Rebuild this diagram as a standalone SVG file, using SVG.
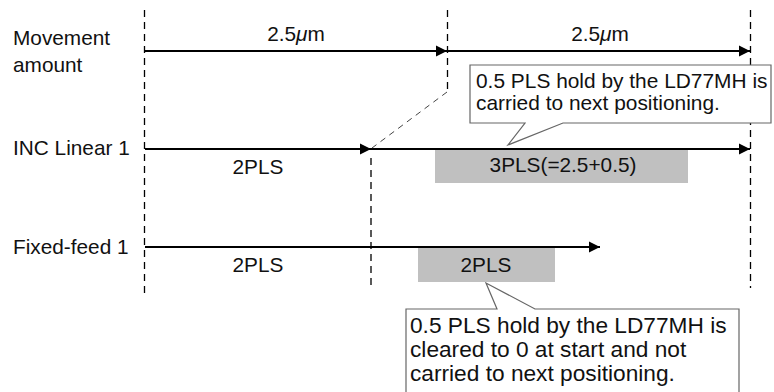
<svg xmlns="http://www.w3.org/2000/svg" width="774" height="392" viewBox="0 0 774 392">
<style>
text{font-family:"Liberation Sans",Arial,sans-serif;fill:#111;}
.lbl{font-size:20.8px;}
.c1{font-size:20.9px;}
.c2{font-size:22.7px;}
.mid{text-anchor:middle;}
.dash{stroke:#000;stroke-width:1.3;stroke-dasharray:7,5;fill:none;}
.ddash{stroke:#444;stroke-width:1;stroke-dasharray:6,5;fill:none;}
.arr{stroke:#000;stroke-width:2.2;fill:none;marker-end:url(#ah);}
.box{fill:#c0c0c0;}
.call{fill:#fff;stroke:#666;stroke-width:1.2;}
.mu{font-style:italic;}
</style>
<defs>
<marker id="ah" markerUnits="userSpaceOnUse" markerWidth="14" markerHeight="14" refX="12" refY="6.5" orient="auto">
<path d="M1,1 L12,6.5 L1,12 Z" fill="#000"/>
</marker>
</defs>
<rect width="774" height="392" fill="#fff"/>
<g id="guides">
<line class="dash" x1="144.5" y1="10" x2="144.5" y2="298"/>
<line class="dash" x1="371" y1="158" x2="371" y2="288"/>
<line class="dash" x1="447.5" y1="10" x2="447.5" y2="92"/>
<line class="dash" x1="750.5" y1="10" x2="750.5" y2="288"/>
</g>
<g id="shaded-3pls"><rect class="box" x="435" y="150" width="253" height="33"/><text class="lbl mid" x="563" y="172">3PLS(=2.5+0.5)</text></g>
<g id="shaded-2pls"><rect class="box" x="418" y="248" width="137" height="34"/><text class="lbl mid" x="486" y="272">2PLS</text></g>
<g id="connectors">
<line class="arr" x1="145" y1="51" x2="447" y2="51"/>
<line class="arr" x1="447" y1="51" x2="750" y2="51"/>
<line class="arr" x1="145" y1="149" x2="371" y2="149"/>
<line class="arr" x1="371" y1="149" x2="750" y2="149"/>
<line class="arr" x1="145" y1="247" x2="600" y2="247"/>
<line class="ddash" x1="447" y1="92" x2="372" y2="148"/>
</g>
<g id="label-movement"><text class="lbl" x="13" y="45">Movement</text><text class="lbl" x="13" y="72">amount</text></g>
<g id="label-inc"><text class="lbl" x="13" y="155">INC Linear 1</text></g>
<g id="label-fixed"><text class="lbl" x="13" y="254">Fixed-feed 1</text></g>
<g id="dist-1"><text class="lbl mid" x="296" y="41">2.5<tspan class="mu">μ</tspan>m</text></g>
<g id="dist-2"><text class="lbl mid" x="600" y="41">2.5<tspan class="mu">μ</tspan>m</text></g>
<g id="inc-2pls"><text class="lbl mid" x="258" y="174">2PLS</text></g>
<g id="fixed-2pls"><text class="lbl mid" x="258" y="272">2PLS</text></g>
<g id="callout-1">
<path class="call" d="M470,65 H771 V123 H563 L508,145 L525,123 H470 Z"/>
<text class="c1" x="476" y="88">0.5 PLS hold by the LD77MH is</text>
<text class="c1" x="476" y="110">carried to next positioning.</text>
</g>
<g id="callout-2">
<path class="call" d="M406,309 H497 L486,283 L535,309 H739 V396 H406 Z"/>
<text class="c2" x="410" y="333">0.5 PLS hold by the LD77MH is</text>
<text class="c2" x="410" y="357">cleared to 0 at start and not</text>
<text class="c2" x="410" y="381">carried to next positioning.</text>
</g>
</svg>
